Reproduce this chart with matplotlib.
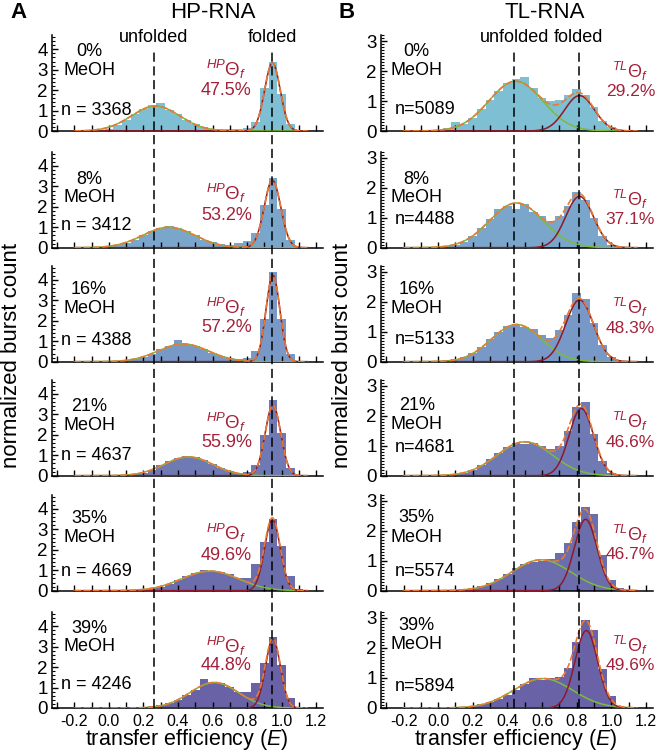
import numpy as np
import matplotlib
matplotlib.use("Agg")
import matplotlib.pyplot as plt
from matplotlib.ticker import MultipleLocator

plt.rcParams['font.family'] = ['Liberation Sans', 'DejaVu Sans']
plt.rcParams['mathtext.fontset'] = 'custom'
plt.rcParams['mathtext.rm'] = 'Liberation Sans'
plt.rcParams['mathtext.it'] = 'Liberation Sans:italic'
plt.rcParams['mathtext.bf'] = 'Liberation Sans:bold'

# ---------------- data ----------------
meoh = ["0%", "8%", "16%", "21%", "35%", "39%"]
hp_n = [3368, 3412, 4388, 4637, 4669, 4246]
tl_n = [5089, 4488, 5133, 4681, 5574, 5894]
hp_theta = ["47.5%", "53.2%", "57.2%", "55.9%", "49.6%", "44.8%"]
tl_theta = ["29.2%", "37.1%", "48.3%", "46.6%", "46.7%", "49.6%"]

# histogram bins (edges), bin centres at -0.05, 0.0, ..., 1.15
bin_edges = np.round(np.arange(-0.075, 1.1751, 0.05), 3)

hp_hist = [
    [0.02, 0.1, 0.3, 0.55, 0.85, 1.1, 1.25, 1.35, 1.05, 0.85, 0.55, 0.35, 0.2, 0.12, 0.12, 0.1, 0.12, 0.15, 0.45, 2.1, 3.4, 1.8, 0.35, 0.03, 0.0],
    [0.03, 0.07, 0.12, 0.25, 0.4, 0.6, 0.8, 0.95, 1.05, 0.95, 0.8, 0.6, 0.4, 0.3, 0.2, 0.15, 0.25, 0.35, 0.7, 2.1, 3.4, 1.9, 0.4, 0.05, 0.0],
    [0.0, 0.02, 0.04, 0.07, 0.13, 0.25, 0.4, 0.6, 0.75, 1.05, 0.85, 0.75, 0.6, 0.45, 0.3, 0.2, 0.15, 0.2, 0.5, 2.1, 4.4, 2.1, 0.4, 0.05, 0.0],
    [0.0, 0.0, 0.02, 0.04, 0.08, 0.15, 0.3, 0.5, 0.7, 0.85, 0.95, 0.9, 0.75, 0.55, 0.4, 0.25, 0.15, 0.2, 0.5, 2.0, 3.7, 2.1, 0.4, 0.05, 0.0],
    [0.0, 0.04, 0.02, 0.02, 0.03, 0.06, 0.12, 0.2, 0.35, 0.5, 0.7, 0.85, 1.0, 0.95, 0.9, 0.8, 0.6, 0.6, 1.3, 2.4, 3.5, 2.2, 0.7, 0.1, 0.0],
    [0.0, 0.03, 0.02, 0.03, 0.04, 0.06, 0.08, 0.15, 0.25, 0.4, 0.65, 0.9, 1.4, 1.2, 1.2, 1.05, 0.8, 0.8, 1.2, 2.2, 3.5, 2.1, 0.5, 0.05, 0.0],
]
tl_hist = [
    [0.01, 0.04, 0.1, 0.3, 0.25, 0.45, 0.75, 1.05, 1.35, 1.6, 1.75, 1.8, 1.45, 1.1, 1.0, 1.05, 1.2, 1.4, 1.2, 0.8, 0.35, 0.12, 0.03, 0.0, 0.0],
    [0.03, 0.03, 0.05, 0.1, 0.2, 0.4, 0.65, 0.95, 1.3, 1.4, 1.3, 1.45, 1.2, 1.05, 0.9, 1.05, 1.4, 1.85, 1.6, 1.0, 0.4, 0.1, 0.02, 0.0, 0.0],
    [0.0, 0.02, 0.05, 0.08, 0.15, 0.3, 0.5, 0.75, 1.0, 1.2, 1.25, 1.15, 1.1, 0.9, 0.8, 1.05, 1.55, 2.3, 2.1, 1.3, 0.55, 0.15, 0.03, 0.0, 0.0],
    [0.0, 0.02, 0.03, 0.05, 0.1, 0.2, 0.35, 0.55, 0.75, 0.95, 1.1, 1.05, 1.1, 1.0, 0.9, 1.0, 1.5, 2.3, 2.45, 1.4, 0.5, 0.1, 0.02, 0.0, 0.0],
    [0.0, 0.01, 0.02, 0.03, 0.05, 0.08, 0.15, 0.25, 0.4, 0.55, 0.75, 0.9, 0.95, 1.0, 1.05, 1.25, 1.6, 2.3, 2.8, 2.55, 1.2, 0.35, 0.08, 0.0, 0.0],
    [0.0, 0.01, 0.02, 0.03, 0.05, 0.08, 0.12, 0.2, 0.3, 0.45, 0.6, 0.8, 1.0, 0.95, 1.0, 1.05, 1.35, 2.2, 2.95, 2.6, 1.3, 0.4, 0.08, 0.0, 0.0],
]

# Gaussian fit parameters: (amplitude, centre, sigma)
hp_unf = [(1.22, 0.27, 0.14), (1.0, 0.346, 0.15), (0.87, 0.43, 0.145),
          (0.92, 0.46, 0.14), (0.96, 0.586, 0.165), (1.25, 0.61, 0.14)]
hp_fol = [(3.33, 0.947, 0.045), (3.3, 0.947, 0.048), (4.23, 0.95, 0.04),
          (3.45, 0.95, 0.045), (3.48, 0.947, 0.045), (3.37, 0.95, 0.043)]
tl_unf = [(1.66, 0.448, 0.155), (1.49, 0.452, 0.155), (1.24, 0.452, 0.145),
          (1.13, 0.50, 0.16), (1.03, 0.595, 0.17), (0.98, 0.605, 0.17)]
tl_fol = [(1.18, 0.816, 0.085), (1.71, 0.816, 0.08), (2.06, 0.816, 0.08),
          (2.24, 0.826, 0.07), (2.38, 0.851, 0.065), (2.58, 0.855, 0.065)]

hp_ref_lines = [0.26, 0.947]
tl_ref_lines = [0.44, 0.81]

# ---------------- style / layout ----------------
bar_colors = ['#7ebfd3', '#7aa6cc', '#7898c8', '#6f7ab5', '#6c6dac', '#6a62a6']
green = '#7cbb3c'
dred = '#8c1a2c'
orange = '#ea7a30'
theta_col = '#a3213a'

W, H = 658, 753
fig = plt.figure(figsize=(W / 100, H / 100), dpi=100)

baselines = [131, 247.7, 361.7, 475.7, 590.7, 708]
ax_h = 96
cols = [(52, 323), (381, 653)]
xlim = (-0.33, 1.24)

hp_lab_y = [(3.87, 2.98, 1.02), (3.34, 2.46, 1.07), (3.53, 2.6, 1.06),
            (3.41, 2.47, 0.98), (3.53, 2.6, 0.96), (3.9, 3.0, 1.14)]
tl_lab_y = [(2.66, 2.02, 0.7), (2.27, 1.66, 0.93), (2.4, 1.79, 0.73),
            (2.35, 1.7, 0.95), (2.43, 1.79, 0.64), (2.74, 2.12, 0.72)]
hp_th_y = [(3.0, 2.0), (2.65, 1.6), (2.68, 1.68), (2.63, 1.63), (2.8, 1.74), (3.0, 2.1)]
tl_th_y = [(2.0, 1.3), (1.62, 0.93), (1.8, 1.1), (1.8, 1.12), (1.87, 1.2), (2.1, 1.42)]

Egrid = np.linspace(-0.2, 1.15, 500)
FS = 13


def gauss(x, p):
    a, m, s = p
    return a * np.exp(-(x - m) ** 2 / (2 * s ** 2))


for c in range(2):
    x0, x1 = cols[c]
    hists = hp_hist if c == 0 else tl_hist
    unf = hp_unf if c == 0 else tl_unf
    fol = hp_fol if c == 0 else tl_fol
    ns = hp_n if c == 0 else tl_n
    thetas = hp_theta if c == 0 else tl_theta
    labs = hp_lab_y if c == 0 else tl_lab_y
    thy = hp_th_y if c == 0 else tl_th_y
    tag = 'HP' if c == 0 else 'TL'
    ymax = 4.7 if c == 0 else 3.2
    for r in range(6):
        b = baselines[r]
        ax = fig.add_axes([x0 / W, 1 - b / H, (x1 - x0) / W, ax_h / H])
        ax.stairs(hists[r], bin_edges, fill=True, color=bar_colors[r], lw=0, zorder=1)
        u = gauss(Egrid, unf[r])
        f = gauss(Egrid, fol[r])
        ax.plot(Egrid, u, color=green, lw=1.1, zorder=3)
        ax.plot(Egrid, f, color=dred, lw=1.1, zorder=3)
        ax.plot(Egrid, u + f, color=orange, lw=1.2, ls=(0, (4, 1.5)), zorder=4)
        ax.set_xlim(*xlim)
        ax.set_ylim(0, ymax)
        for s in ['top', 'right']:
            ax.spines[s].set_visible(False)
        for s in ['left', 'bottom']:
            ax.spines[s].set_linewidth(1.1)
        ax.xaxis.set_major_locator(MultipleLocator(0.2))
        ax.xaxis.set_minor_locator(MultipleLocator(0.1))
        ax.yaxis.set_major_locator(MultipleLocator(1))
        ax.yaxis.set_minor_locator(MultipleLocator(0.2 if c == 0 else 0.1))
        ax.tick_params(axis='both', which='both', direction='in')
        ax.tick_params(axis='x', which='major', length=4, width=1.0, labelsize=11.5, pad=4)
        ax.tick_params(axis='x', which='minor', length=4, width=1.0)
        ax.tick_params(axis='y', which='major', length=4, width=1.0, labelsize=13.5, pad=3)
        ax.tick_params(axis='y', which='minor', length=2, width=0.8)
        if r < 5:
            ax.tick_params(axis='x', labelbottom=False)
        else:
            ax.set_xticks([-0.2, 0.0, 0.2, 0.4, 0.6, 0.8, 1.0, 1.2])
            ax.set_xticklabels(['-0.2', '0.0', '0.2', '0.4', '0.6', '0.8', '1.0', '1.2'])
        # texts
        if c == 0:
            cx, nx = -0.115, -0.278
            tx = 0.68
            nlabel = f"n = {ns[r]}"
            tfs = FS
        else:
            cx, nx = -0.124, -0.253
            tx = 1.11
            nlabel = f"n={ns[r]}"
            tfs = 12.5
        ax.text(cx, labs[r][0], meoh[r], ha='center', va='center', fontsize=FS)
        ax.text(cx, labs[r][1], "MeOH", ha='center', va='center', fontsize=FS)
        ax.text(nx, labs[r][2], nlabel, ha='left', va='center', fontsize=FS)
        ax.text(tx, thy[r][0], r'${}^{%s}\mathit{\Theta}_{f}$' % tag, ha='center', va='center',
                fontsize=tfs + 0.5, color=theta_col, clip_on=False)
        ax.text(tx, thy[r][1], thetas[r], ha='center', va='center', fontsize=tfs,
                color=theta_col, clip_on=False)

    # overlay for dashed reference lines
    top_px = 48
    ov = fig.add_axes([x0 / W, 1 - baselines[-1] / H, (x1 - x0) / W, (baselines[-1] - top_px) / H])
    ov.set_xlim(*xlim)
    ov.set_ylim(0, 1)
    ov.set_axis_off()
    ov.set_zorder(10)
    refs = hp_ref_lines if c == 0 else tl_ref_lines
    for xv in refs:
        ov.plot([xv, xv], [0, 1], color='black', lw=1.1, ls=(0, (6, 3)))
    ov.text(refs[0], 1 + 10 / (baselines[-1] - top_px), "unfolded", ha='center', va='center', fontsize=FS)
    ov.text(refs[1], 1 + 10 / (baselines[-1] - top_px), "folded", ha='center', va='center', fontsize=FS)

# titles & panel letters
fig.text(10 / W, 1 - 13 / H, "A", fontsize=16, fontweight='bold', ha='left', va='center')
fig.text(338 / W, 1 - 13 / H, "B", fontsize=16, fontweight='bold', ha='left', va='center')
fig.text(213 / W, 1 - 13 / H, "HP-RNA", fontsize=16, ha='center', va='center')
fig.text(545 / W, 1 - 13 / H, "TL-RNA", fontsize=16, ha='center', va='center')

# axis labels
fig.text(12 / W, 1 - 355 / H, "normalized burst count", rotation=90, fontsize=16, ha='center', va='center')
fig.text(343 / W, 1 - 355 / H, "normalized burst count", rotation=90, fontsize=16, ha='center', va='center')
fig.text(187 / W, 1 - 740 / H, r"transfer efficiency ($\mathit{E}$)", fontsize=15.5, ha='center', va='center')
fig.text(516 / W, 1 - 740 / H, r"transfer efficiency ($\mathit{E}$)", fontsize=15.5, ha='center', va='center')

fig.savefig("out.png", dpi=100)
